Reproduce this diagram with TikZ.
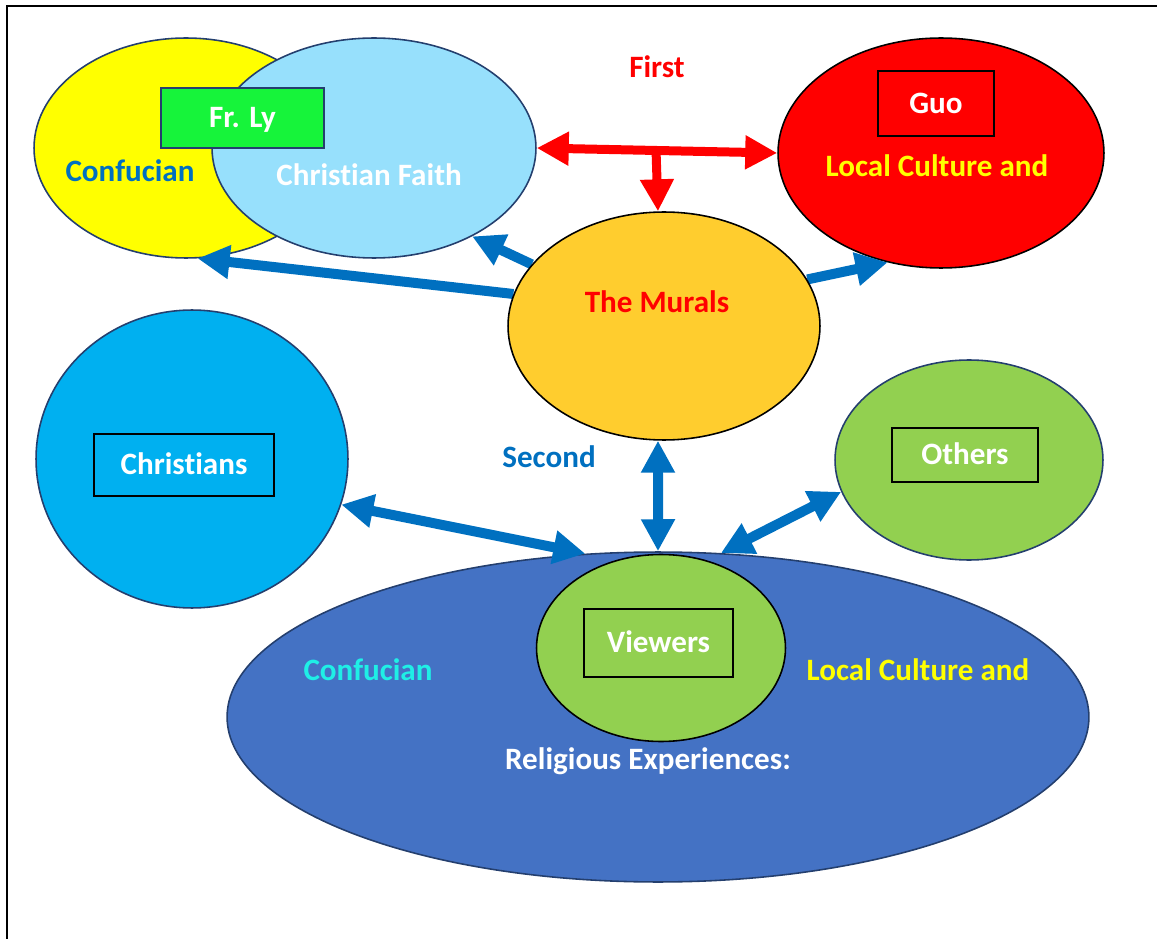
\documentclass[tikz,border=0pt]{standalone}
\usepackage{fontspec}
\setmainfont{Carlito}[Ligatures=NoCommon]
\usepackage{xcolor}
\usetikzlibrary{calc,arrows.meta,shapes.geometric}
\definecolor{confyellow}{HTML}{FFFF00}
\definecolor{faithblue}{HTML}{97E0FC}
\definecolor{lygreen}{HTML}{16F43A}
\definecolor{muralgold}{HTML}{FFCD2E}
\definecolor{christblue}{HTML}{00B0F0}
\definecolor{viewgreen}{HTML}{92D050}
\definecolor{expblue}{HTML}{4472C4}
\definecolor{arrowblue}{HTML}{0070C0}
\definecolor{edgenavy}{HTML}{243F6E}
\definecolor{confcyan}{HTML}{1FEFE6}
\pgfdeclarelayer{front}
\pgfsetlayers{main,front}

\begin{document}
\begin{tikzpicture}[x=0.02cm, y=-0.02cm,
  blob/.style={ellipse, draw=edgenavy, line width=0.9pt, inner sep=0pt},
  tag/.style={draw=black, line width=1.1pt, inner sep=0pt, text=white},
  word/.style={font=\fontsize{17.7}{20}\selectfont\bfseries,
    text height=11.3pt, text depth=0pt, inner sep=0pt},
  link/.style={arrowblue, line width=0.2cm,
    -{Triangle[length=0.64cm, width=0.64cm]}},
  bilink/.style={link, {Triangle[length=0.64cm, width=0.64cm]}-{Triangle[length=0.64cm, width=0.64cm]}},
  redlink/.style={red, line width=0.18cm,
    -{Triangle[length=0.64cm, width=0.64cm]}}]
  \useasboundingbox (0,0) rectangle (1157,939);
  % frame
  \draw[line width=1.2pt] (7,939) -- (7,6) -- (1157,6);

  % ── top left: Confucian and Christian faith ──
  \node[blob, fill=confyellow, minimum width=6.08cm, minimum height=4.4cm] (confu) at (186,148) {};
  \node[blob, fill=faithblue, minimum width=6.48cm, minimum height=4.4cm] (faith) at (374,148) {};
  \node[word, tag, draw=edgenavy, fill=lygreen, minimum width=3.26cm, minimum height=1.2cm]
    (frly) at (242.5,118) {Fr. Ly};
  \node[word, text=arrowblue] (confutxt) at (130,172) {Confucian};
  \node[word, text=white] (faithtxt) at (369,176) {Christian Faith};

  % ── top right: local culture ──
  \node[blob, draw=black, fill=red, minimum width=6.52cm, minimum height=4.6cm] (localc) at (941,153) {};
  \node[word, tag, fill=red, minimum width=2.32cm, minimum height=1.3cm]
    (guo) at (936,103.5) {Guo};
  \node[word, text=confyellow] (localtxt) at (937,167) {Local Culture and};
  \node[word, text=red] (first) at (657,68) {First};

  % ── the murals ──
  \begin{pgfonlayer}{front}
    \node[blob, draw=black, fill=muralgold, minimum width=6.24cm, minimum height=4.56cm] (murals) at (664,326) {};
    \node[word, text=red] (muraltxt) at (657,303) {The Murals};
  \end{pgfonlayer}

  % ── second level ──
  \node[blob, fill=christblue, minimum width=6.24cm, minimum height=5.96cm] (christ) at (192,459) {};
  \node[word, tag, minimum width=3.6cm, minimum height=1.24cm] (christbox) at (184,465) {Christians};
  \node[blob, fill=viewgreen, minimum width=5.36cm, minimum height=4cm] (others) at (969,460) {};
  \node[word, tag, minimum width=2.92cm, minimum height=1.08cm] (othersbox) at (965,455) {Others};
  \node[word, text=arrowblue] (second) at (549,458) {Second};

  % ── viewers and their experiences ──
  \node[blob, fill=expblue, minimum width=17.24cm, minimum height=6.6cm] (exper) at (658,717) {};
  \node[blob, draw=black, fill=viewgreen, minimum width=4.98cm, minimum height=3.74cm] (viewers) at (661,648) {};
  \node[word, tag, minimum width=2.98cm, minimum height=1.36cm] (viewbox) at (658.5,643) {Viewers};
  \node[word, text=confcyan] (confutxt2) at (368,671) {Confucian};
  \node[word, text=confyellow] (localtxt2) at (918,671) {Local Culture and};
  \node[word, text=white] (religtxt) at (648,760) {Religious Experiences:};

  % red arrows
  \coordinate (fork) at ($(faith.east)!0.496!(localc.west)$);
  \draw[redlink, {Triangle[length=0.64cm, width=0.64cm]}-{Triangle[length=0.64cm, width=0.64cm]}]
    (faith.east) -- (localc.west);
  \draw[redlink] (fork) -- (murals.93);

  % blue arrows
  \draw[link] (murals.168.8) -- (confu.276);
  \draw[link] (murals.155) -- (faith.318.8);
  \draw[link] (murals.18) -- (localc.244.8);
  \draw[bilink] (christ.343.8) -- (exper.114.3);
  \draw[bilink] (murals.267) -- (exper.90);
  \draw[bilink] (others.194.2) -- (exper.69.7);
\end{tikzpicture}
\end{document}
